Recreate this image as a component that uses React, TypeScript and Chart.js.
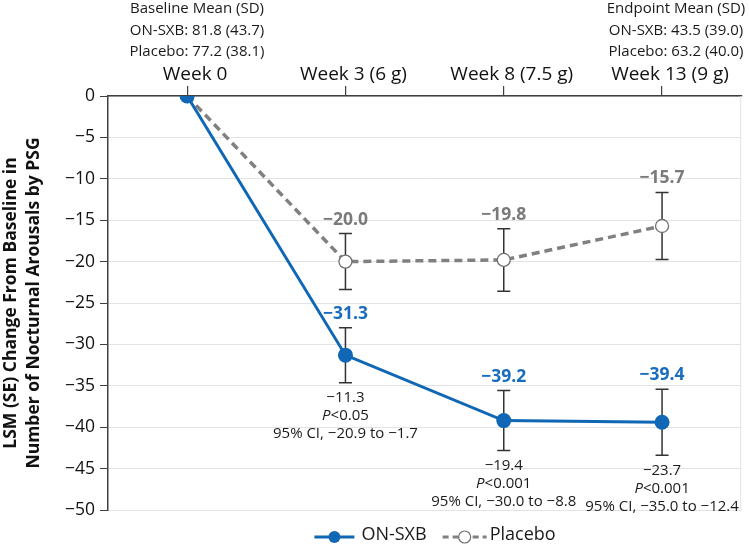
import React, { useEffect, useRef } from "react";
import { Chart, registerables } from "chart.js";

Chart.register(...registerables);

const weeks = ["Week 0", "Week 3 (6 g)", "Week 8 (7.5 g)", "Week 13 (9 g)"];
const onSxb = [0, -31.3, -39.2, -39.4];
const onSxbSE = [0, 3.32, 3.62, 3.99];
const placebo = [0, -20.0, -19.8, -15.7];
const placeboSE = [0, 3.38, 3.78, 4.06];
const diffLabels = ["", "\u221211.3", "\u221219.4", "\u221223.7"];
const pLabels = ["", "<0.05", "<0.001", "<0.001"];
const ciLabels = ["", "95% CI, \u221220.9 to \u22121.7", "95% CI, \u221230.0 to \u22128.8", "95% CI, \u221235.0 to \u221212.4"];
const yTicks = [0, -5, -10, -15, -20, -25, -30, -35, -40, -45, -50];
const baselineLines = ["Baseline Mean (SD)", "ON-SXB: 81.8 (43.7)", "Placebo: 77.2 (38.1)"];
const endpointLines = ["Endpoint Mean (SD)", "ON-SXB: 43.5 (39.0)", "Placebo: 63.2 (40.0)"];
const yTitle = ["LSM (SE) Change From Baseline in", "Number of Nocturnal Arousals by PSG"];

const FONT = "'Open Sans', 'Noto Sans', sans-serif";
const BLUE = "#0F67B5";
const BLUE_TXT = "#1A6DBE";
const GRAY = "#808080";
const GRAY_TXT = "#7A7A7A";
const fmt = (v: number, d = 1) => (v < 0 ? "\u2212" + Math.abs(v).toFixed(d) : v.toFixed(d));

const annotPlugin = {
  id: "annot",
  beforeDatasetsDraw(chart: any) {
    const { ctx, chartArea } = chart;
    const xs = chart.scales.x;
    const ys = chart.scales.y;
    ctx.save();
    ctx.strokeStyle = "#E3E3E3";
    ctx.lineWidth = 1;
    ctx.beginPath();
    ctx.moveTo(chartArea.right - 0.5, chartArea.top);
    ctx.lineTo(chartArea.right - 0.5, chartArea.bottom);
    ctx.stroke();
    ctx.strokeStyle = "#333333";
    ctx.lineWidth = 1.5;
    const series: [number[], number[]][] = [
      [onSxb, onSxbSE],
      [placebo, placeboSE],
    ];
    series.forEach(([vals, ses]) => {
      vals.forEach((v, i) => {
        if (!ses[i]) return;
        const px = xs.getPixelForValue(i);
        const t = ys.getPixelForValue(v + ses[i]);
        const b = ys.getPixelForValue(v - ses[i]);
        ctx.beginPath();
        ctx.moveTo(px, t);
        ctx.lineTo(px, b);
        ctx.moveTo(px - 6.5, t);
        ctx.lineTo(px + 6.5, t);
        ctx.moveTo(px - 6.5, b);
        ctx.lineTo(px + 6.5, b);
        ctx.stroke();
      });
    });
    ctx.restore();
  },
  afterDraw(chart: any) {
    const { ctx } = chart;
    const xs = chart.scales.x;
    const ys = chart.scales.y;
    ctx.save();
    ctx.textAlign = "center";
    ctx.textBaseline = "middle";
    // value labels
    ctx.font = `bold 17.5px ${FONT}`;
    onSxb.forEach((v, i) => {
      if (!onSxbSE[i]) return;
      ctx.fillStyle = BLUE_TXT;
      ctx.fillText(fmt(v), xs.getPixelForValue(i), ys.getPixelForValue(v + onSxbSE[i]) - 14);
    });
    placebo.forEach((v, i) => {
      if (!placeboSE[i]) return;
      ctx.fillStyle = GRAY_TXT;
      ctx.fillText(fmt(v), xs.getPixelForValue(i), ys.getPixelForValue(v + placeboSE[i]) - 14);
    });
    // comparison text
    ctx.fillStyle = "#1a1a1a";
    onSxb.forEach((v, i) => {
      if (!diffLabels[i]) return;
      const px = xs.getPixelForValue(i);
      const y0 = ys.getPixelForValue(v - onSxbSE[i]) + 15;
      ctx.font = `15px ${FONT}`;
      ctx.textAlign = "center";
      ctx.fillText(diffLabels[i], px, y0);
      ctx.font = `italic 15px ${FONT}`;
      const wP = ctx.measureText("P").width;
      ctx.font = `15px ${FONT}`;
      const wR = ctx.measureText(pLabels[i]).width;
      const start = px - (wP + wR) / 2;
      ctx.textAlign = "left";
      ctx.font = `italic 15px ${FONT}`;
      ctx.fillText("P", start, y0 + 18);
      ctx.font = `15px ${FONT}`;
      ctx.fillText(pLabels[i], start + wP, y0 + 18);
      ctx.textAlign = "center";
      ctx.fillText(ciLabels[i], px, y0 + 36);
    });
    // top annotations
    ctx.fillStyle = "#1a1a1a";
    ctx.font = `15px ${FONT}`;
    ctx.textAlign = "center";
    baselineLines.forEach((t, i) => ctx.fillText(t, 197, 9 + i * 21.5));
    endpointLines.forEach((t, i) => ctx.fillText(t, 676, 9 + i * 21.5));
    // legend
    const ly = 535;
    ctx.font = `18px ${FONT}`;
    ctx.textAlign = "left";
    const t1 = "ON-SXB";
    const t2 = "Placebo";
    const w1 = ctx.measureText(t1).width;
    const w2 = ctx.measureText(t2).width;
    const total = 40 + 7 + w1 + 16 + 44 + 3 + w2;
    let lx = 435 - total / 2;
    ctx.strokeStyle = BLUE;
    ctx.lineWidth = 3;
    ctx.beginPath();
    ctx.moveTo(lx, ly + 2);
    ctx.lineTo(lx + 40, ly + 2);
    ctx.stroke();
    ctx.fillStyle = BLUE;
    ctx.beginPath();
    ctx.arc(lx + 20, ly + 2, 6, 0, Math.PI * 2);
    ctx.fill();
    lx += 47;
    ctx.fillStyle = "#1a1a1a";
    ctx.fillText(t1, lx, ly);
    lx += w1 + 16;
    ctx.strokeStyle = GRAY;
    ctx.setLineDash([6, 4]);
    ctx.beginPath();
    ctx.moveTo(lx, ly + 2);
    ctx.lineTo(lx + 44, ly + 2);
    ctx.stroke();
    ctx.setLineDash([]);
    ctx.fillStyle = "#fff";
    ctx.strokeStyle = "#707070";
    ctx.lineWidth = 1.2;
    ctx.beginPath();
    ctx.arc(lx + 22, ly + 2, 6, 0, Math.PI * 2);
    ctx.fill();
    ctx.stroke();
    lx += 47;
    ctx.fillStyle = "#1a1a1a";
    ctx.fillText(t2, lx, ly);
    ctx.restore();
  },
};

export default function App() {
  const ref = useRef<HTMLCanvasElement>(null);
  useEffect(() => {
    document.body.style.margin = "0";
    if (!ref.current) return;
    const chart = new Chart(ref.current, {
      type: "line",
      data: {
        labels: weeks,
        datasets: [
          {
            label: "ON-SXB",
            data: onSxb,
            borderColor: BLUE,
            backgroundColor: BLUE,
            borderWidth: 3,
            pointRadius: 7.5,
            pointBackgroundColor: BLUE,
            pointBorderColor: BLUE,
            pointBorderWidth: 0,
            tension: 0,
          },
          {
            label: "Placebo",
            data: placebo,
            borderColor: GRAY,
            backgroundColor: "#fff",
            borderWidth: 3.5,
            borderDash: [8, 5],
            pointRadius: 6.5,
            pointBackgroundColor: "#fff",
            pointBorderColor: "#707070",
            pointBorderWidth: 1.3,
            tension: 0,
          },
        ],
      },
      options: {
        responsive: false,
        animation: false,
        layout: { padding: { top: 60, right: 3, bottom: 35, left: 0 } },
        plugins: { legend: { display: false }, tooltip: { enabled: false } },
        scales: {
          x: {
            type: "category",
            position: "top",
            offset: true,
            afterFit: (s: any) => {
              s.height = 36;
            },
            grid: { drawOnChartArea: false, tickLength: 10, tickColor: "#404040", lineWidth: 1.2 },
            border: { color: "#404040", width: 1.5 },
            ticks: { font: { family: FONT, size: 19 }, color: "#111", padding: 0, labelOffset: 8, maxRotation: 0 },
          },
          y: {
            min: -50,
            max: 0,
            afterFit: (s: any) => {
              s.width = 108;
            },
            afterBuildTicks: (s: any) => {
              s.ticks = yTicks.map((v) => ({ value: v }));
            },
            grid: { color: "#E3E3E3", tickColor: "#404040", tickLength: 8, lineWidth: 1 },
            border: { color: "#404040", width: 1.5 },
            ticks: {
              font: { family: FONT, size: 17.5 },
              color: "#111",
              padding: 5,
              callback: (v: any) => fmt(Number(v), 0),
            },
            title: {
              display: true,
              text: yTitle,
              font: { family: FONT, size: 17.5, weight: "bold", lineHeight: 1.31 },
              color: "#111",
              padding: { top: 0, bottom: 0 },
            },
          },
        },
      },
      plugins: [annotPlugin],
    } as any);
    return () => chart.destroy();
  }, []);
  return <canvas ref={ref} width={749} height={545} style={{ display: "block" }} />;
}
